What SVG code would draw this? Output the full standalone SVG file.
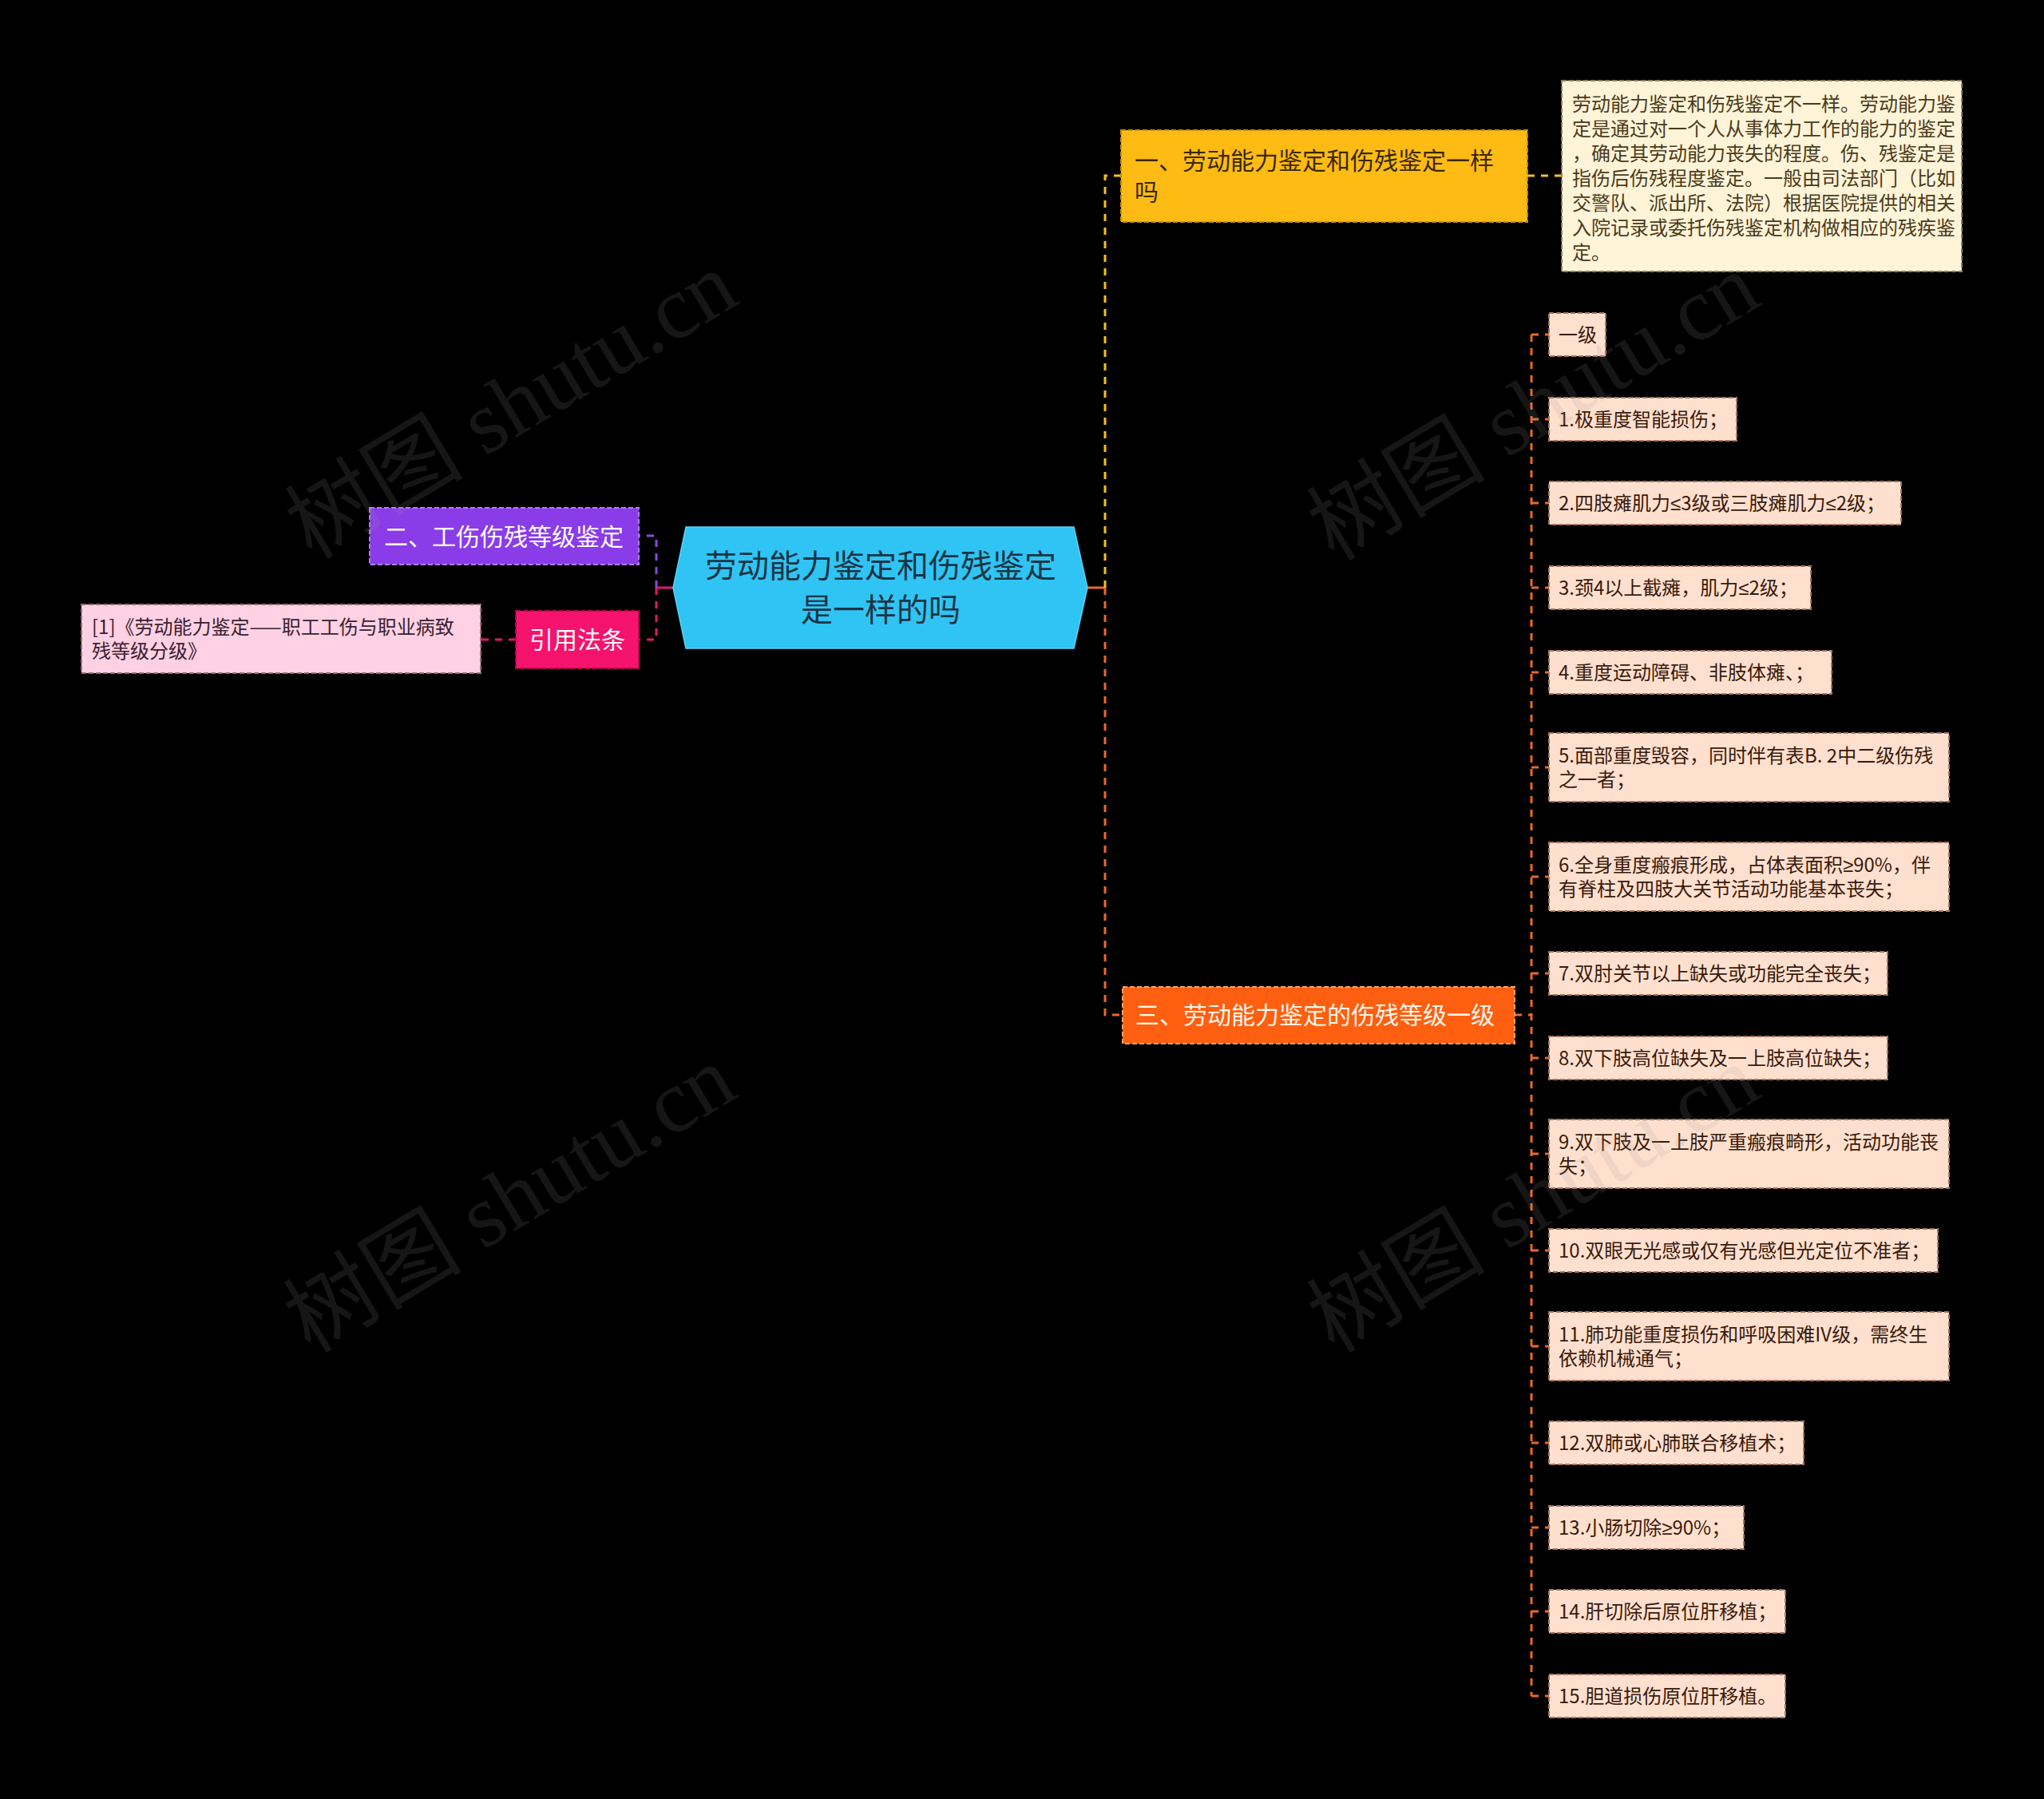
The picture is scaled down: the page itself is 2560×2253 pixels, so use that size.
<svg xmlns="http://www.w3.org/2000/svg" width="2560" height="2253" viewBox="0 0 2560 2253">
<style>
text{font-family:"Noto Sans CJK SC","Noto Sans",sans-serif;}
.m{font-family:"Liberation Sans","DejaVu Sans",sans-serif;}
.c{fill:none;stroke-width:3;stroke-dasharray:9 8;}
.solid{fill:none;stroke-width:3;}
.cy{stroke:#f5c01c;}
.co{stroke:#e8692b;}
.cp{stroke:#8a48e0;}
.cm{stroke:#e0186e;}
.item rect{fill:#ffe0cf;stroke:#a8735c;stroke-width:2;stroke-dasharray:6 3;}
.item text{font-size:24px;fill:#3a1a0a;}
.wm{font-family:"Liberation Serif","Noto Sans CJK SC",serif;font-size:112px;fill:#9a9a9a;opacity:0.14;}
</style>
<rect width="2560" height="2253" fill="#000"/>

<g id="connectors">
  <path class="solid co" d="M1362 736 H1384"/>
  <path class="c cy" d="M1384 736 V220 H1404"/>
  <path class="c co" d="M1384 736 V1271 H1406"/>
  <path class="c cy" d="M1913 220 H1956"/>
  <path class="solid cm" d="M843 736 H822"/>
  <path class="c cp" d="M822 736 V671 H800"/>
  <path class="c cm" d="M822 736 V801 H800"/>
  <path class="c cm" d="M646 801 H602"/>
  <path class="c co" d="M1897 1271 H1918"/>
  <path class="c co" d="M1918 419 V2124"/>
  <path class="c co" d="M1918 419 H1940 M1918 525 H1940 M1918 630 H1940 M1918 736 H1940 M1918 842 H1940 M1918 961 H1940 M1918 1098 H1940 M1918 1219 H1940 M1918 1325 H1940 M1918 1445 H1940 M1918 1566 H1940 M1918 1686 H1940 M1918 1807 H1940 M1918 1913 H1940 M1918 2018 H1940 M1918 2124 H1940"/>
</g>

<g id="root">
  <polygon points="859,660 1345,660 1362,736 1345,812 859,812 843,736" fill="#30c4f4" stroke="#5ad2f7" stroke-width="1.5"/>
  <text x="1103" y="723" font-size="40" fill="#1a3545" text-anchor="middle">劳动能力鉴定和伤残鉴定</text>
  <text x="1103" y="778" font-size="40" fill="#1a3545" text-anchor="middle">是一样的吗</text>
</g>

<g id="n1">
  <rect x="1404" y="163" width="509" height="115" fill="#fdbb14" stroke="#c58c06" stroke-width="2" stroke-dasharray="6 3"/>
  <text x="1421" y="212" font-size="30" fill="#3a2800">一、劳动能力鉴定和伤残鉴定一样</text>
  <text x="1421" y="251" font-size="30" fill="#3a2800">吗</text>
</g>

<g id="n1-desc">
  <rect x="1956" y="101" width="501" height="239" fill="#fff4d8" stroke="#8f8060" stroke-width="2" stroke-dasharray="6 3"/>
  <g font-size="24" fill="#4a3a1a">
    <text x="1969" y="139">劳动能力鉴定和伤残鉴定不一样。劳动能力鉴</text>
    <text x="1969" y="170">定是通过对一个人从事体力工作的能力的鉴定</text>
    <text x="1969" y="201">，确定其劳动能力丧失的程度。伤、残鉴定是</text>
    <text x="1969" y="232">指伤后伤残程度鉴定。一般由司法部门（比如</text>
    <text x="1969" y="263">交警队、派出所、法院）根据医院提供的相关</text>
    <text x="1969" y="294">入院记录或委托伤残鉴定机构做相应的残疾鉴</text>
    <text x="1969" y="325">定。</text>
  </g>
</g>

<g id="n2">
  <rect x="463" y="636" width="337" height="71" fill="#8a3ce8" stroke="#b07cf2" stroke-width="2" stroke-dasharray="6 3"/>
  <text x="631" y="683" font-size="30" fill="#ffffff" text-anchor="middle">二、工伤伤残等级鉴定</text>
</g>

<g id="n-law">
  <rect x="646" y="765" width="154" height="72" fill="#f5136d" stroke="#c2004f" stroke-width="2" stroke-dasharray="6 3"/>
  <text x="723" y="812" font-size="30" fill="#ffffff" text-anchor="middle">引用法条</text>
</g>

<g id="n-law-ref">
  <rect x="102" y="757" width="500" height="86" fill="#ffd1e3" stroke="#9a6a7e" stroke-width="2" stroke-dasharray="6 3"/>
  <text x="115" y="794" font-size="24" fill="#3a2030">[1]《劳动能力鉴定——职工工伤与职业病致</text>
  <text x="115" y="824" font-size="24" fill="#3a2030">残等级分级》</text>
</g>

<g id="n3">
  <rect x="1406" y="1236" width="491" height="71" fill="#ff5f10" stroke="#ffa064" stroke-width="2" stroke-dasharray="6 3"/>
  <text x="1422" y="1282" font-size="30" fill="#fff6ec">三、劳动能力鉴定的伤残等级一级</text>
</g>

<g id="i0" class="item"><rect x="1940" y="392" width="71" height="54"/><text x="1952" y="428">一级</text></g>
<g id="i1" class="item"><rect x="1940" y="498" width="235" height="54"/><text x="1952" y="534">1.极重度智能损伤；</text></g>
<g id="i2" class="item"><rect x="1940" y="603" width="441" height="54"/><text x="1952" y="639">2.四肢瘫肌力<tspan class="m">≤</tspan>3级或三肢瘫肌力<tspan class="m">≤</tspan>2级；</text></g>
<g id="i3" class="item"><rect x="1940" y="709" width="328" height="54"/><text x="1952" y="745">3.颈4以上截瘫，肌力<tspan class="m">≤</tspan>2级；</text></g>
<g id="i4" class="item"><rect x="1940" y="815" width="354" height="54"/><text x="1952" y="851">4.重度运动障碍、非肢体瘫、；</text></g>
<g id="i5" class="item"><rect x="1940" y="918" width="501" height="86"/><text x="1952" y="955">5.面部重度毁容，同时伴有表B. 2中二级伤残</text><text x="1952" y="985">之一者；</text></g>
<g id="i6" class="item"><rect x="1940" y="1055" width="501" height="86"/><text x="1952" y="1092">6.全身重度瘢痕形成，占体表面积<tspan class="m">≥</tspan>90%，伴</text><text x="1952" y="1122">有脊柱及四肢大关节活动功能基本丧失；</text></g>
<g id="i7" class="item"><rect x="1940" y="1192" width="424" height="54"/><text x="1952" y="1228">7.双肘关节以上缺失或功能完全丧失；</text></g>
<g id="i8" class="item"><rect x="1940" y="1298" width="424" height="54"/><text x="1952" y="1334">8.双下肢高位缺失及一上肢高位缺失；</text></g>
<g id="i9" class="item"><rect x="1940" y="1402" width="501" height="86"/><text x="1952" y="1439">9.双下肢及一上肢严重瘢痕畸形，活动功能丧</text><text x="1952" y="1469">失；</text></g>
<g id="i10" class="item"><rect x="1940" y="1539" width="487" height="54"/><text x="1952" y="1575">10.双眼无光感或仅有光感但光定位不准者；</text></g>
<g id="i11" class="item"><rect x="1940" y="1643" width="501" height="86"/><text x="1952" y="1680">11.肺功能重度损伤和呼吸困难IV级，需终生</text><text x="1952" y="1710">依赖机械通气；</text></g>
<g id="i12" class="item"><rect x="1940" y="1780" width="319" height="54"/><text x="1952" y="1816">12.双肺或心肺联合移植术；</text></g>
<g id="i13" class="item"><rect x="1940" y="1886" width="244" height="54"/><text x="1952" y="1922">13.小肠切除<tspan class="m">≥</tspan>90%；</text></g>
<g id="i14" class="item"><rect x="1940" y="1991" width="296" height="54"/><text x="1952" y="2027">14.肝切除后原位肝移植；</text></g>
<g id="i15" class="item"><rect x="1940" y="2097" width="296" height="54"/><text x="1952" y="2133">15.胆道损伤原位肝移植。</text></g>

<g id="watermarks">
  <text class="wm" x="642" y="510" text-anchor="middle" transform="rotate(-31 642 510)" dy="35">树图 shutu.cn</text>
  <text class="wm" x="1922" y="512" text-anchor="middle" transform="rotate(-31 1922 512)" dy="35">树图 shutu.cn</text>
  <text class="wm" x="640" y="1504" text-anchor="middle" transform="rotate(-31 640 1504)" dy="35">树图 shutu.cn</text>
  <text class="wm" x="1922" y="1504" text-anchor="middle" transform="rotate(-31 1922 1504)" dy="35">树图 shutu.cn</text>
</g>
</svg>
